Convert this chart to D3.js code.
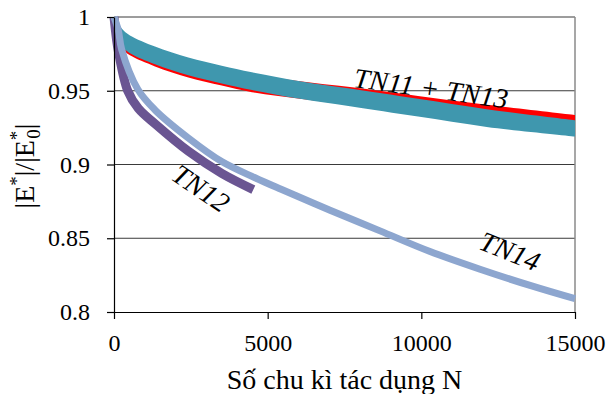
<!DOCTYPE html>
<html>
<head>
<meta charset="utf-8">
<script src="https://cdn.jsdelivr.net/npm/d3@7"></script>
<style>
  body { margin: 0; background: #fff; }
  .serif { font-family: 'Liberation Serif', 'Times New Roman', serif; }
</style>
</head>
<body>
<div id="chart"></div>
<script>
// values
const yTicks = [0.8, 0.85, 0.9, 0.95, 1];
const yTickLabels = ['0.8', '0.85', '0.9', '0.95', '1'];
const xTicks = [0, 5000, 10000, 15000];
const xTickLabels = ['0', '5000', '10000', '15000'];

// TN11 and TN13 are wide scattered bands: upper / lower edge
const bandN = [0, 130, 260, 520, 1334, 2418, 3505, 4490, 6052, 7679, 9892, 12128, 15000];
const tn13Hi = [1.0, 0.997, 0.992, 0.9875, 0.980, 0.9725, 0.967, 0.9625, 0.9565, 0.9515, 0.9445, 0.9375, 0.930];
const tn13Lo = [1.0, 0.985, 0.980, 0.9755, 0.968, 0.9605, 0.955, 0.9505, 0.9445, 0.9395, 0.9325, 0.9255, 0.919];
const tn11Hi = [1.0, 0.996, 0.9905, 0.986, 0.9785, 0.971, 0.9655, 0.961, 0.9565, 0.9525, 0.9465, 0.9405, 0.9335];
const tn11Lo = [1.0, 0.984, 0.9785, 0.974, 0.9665, 0.959, 0.9535, 0.949, 0.9445, 0.9405, 0.9345, 0.9285, 0.9225];

// TN12 and TN14 are narrow: centre line
const tn12N = [0, 81, 140, 446, 791, 1367, 2418, 3505, 4533];
const tn12V = [1.0, 0.985, 0.977, 0.950, 0.938, 0.927, 0.909, 0.894, 0.883];
const tn14N = [0, 140, 250, 774, 1334, 2418, 3505, 4588, 5457, 7029, 8656, 10283, 11910, 13537, 15000];
const tn14V = [1.0, 0.991, 0.978, 0.951, 0.937, 0.918, 0.902, 0.891, 0.883, 0.869, 0.855, 0.841, 0.829, 0.818, 0.809];

const FONT = "'Liberation Serif', 'Times New Roman', serif";
const W = 607, H = 394;
const margin = {top: 17, right: 32, bottom: 82, left: 114};

const svg = d3.select('#chart').append('svg')
    .attr('width', W)
    .attr('height', H);

const x = d3.scaleLinear().domain([0, 15000]).range([margin.left, W - margin.right]);
const y = d3.scaleLinear().domain([0.8, 1]).range([H - margin.bottom, margin.top]);

// gridlines
svg.append('g')
    .selectAll('line')
    .data(yTicks.filter(d => d > 0.8))
    .enter().append('line')
    .attr('x1', x(0)).attr('x2', x(15000))
    .attr('y1', d => y(d)).attr('y2', d => y(d))
    .attr('stroke', '#3a3a3a')
    .attr('stroke-width', 1);

// right border
svg.append('line')
    .attr('x1', x(15000)).attr('x2', x(15000))
    .attr('y1', y(1)).attr('y2', y(0.8))
    .attr('stroke', '#8a8a8a')
    .attr('stroke-width', 1.5);

const smooth = d3.curveCatmullRom.alpha(0.5);

const band = (n, hi, lo) => d3.area()
    .x((d, i) => x(n[i]))
    .y0((d, i) => y(lo[i]))
    .y1((d, i) => y(hi[i]))
    .curve(smooth)(n);

const line = (n, v) => d3.line()
    .x((d, i) => x(n[i]))
    .y((d, i) => y(v[i]))
    .curve(smooth)(n);

svg.append('path').attr('d', band(bandN, tn11Hi, tn11Lo)).attr('fill', '#ff0000');
svg.append('path').attr('d', band(bandN, tn13Hi, tn13Lo)).attr('fill', '#3f97ae');
svg.append('path').attr('d', line(tn12N, tn12V))
    .attr('fill', 'none').attr('stroke', '#6a5592').attr('stroke-width', 9);
svg.append('path').attr('d', line(tn14N, tn14V))
    .attr('fill', 'none').attr('stroke', '#8da6cf').attr('stroke-width', 7);

// axes
const yAxis = svg.append('g')
    .attr('transform', `translate(${margin.left},0)`)
    .call(d3.axisLeft(y).tickValues(yTicks)
        .tickFormat((d, i) => yTickLabels[i])
        .tickSize(7).tickSizeOuter(0).tickPadding(17));
const xAxis = svg.append('g')
    .attr('transform', `translate(0,${H - margin.bottom})`)
    .call(d3.axisBottom(x).tickValues(xTicks)
        .tickFormat((d, i) => xTickLabels[i])
        .tickSize(7).tickSizeOuter(0).tickPadding(15));

[yAxis, xAxis].forEach(g => {
    g.attr('font-family', null).attr('font-size', null);
    g.selectAll('path, line').attr('stroke', '#000').attr('stroke-width', 1.2);
    g.selectAll('text')
        .attr('class', 'serif')
        .attr('fill', '#000')
        .style('font-family', FONT)
        .style('font-size', '24px');
});

// axis titles
svg.append('text')
    .attr('class', 'serif')
    .attr('x', (x(0) + x(15000)) / 2)
    .attr('y', 389)
    .attr('text-anchor', 'middle')
    .style('font-family', FONT)
    .style('font-size', '28px')
    .text('Số chu kì tác dụng N');

const yTitle = svg.append('text')
    .attr('class', 'serif')
    .attr('transform', 'translate(34,166) rotate(-90)')
    .attr('text-anchor', 'middle')
    .style('font-family', FONT)
    .style('font-size', '28px');
yTitle.append('tspan').text('|E');
yTitle.append('tspan').attr('dy', -11).style('font-size', '19px').text('*');
yTitle.append('tspan').attr('dy', 11).text('|/|E');
yTitle.append('tspan').attr('dy', -11).style('font-size', '19px').text('*');
yTitle.append('tspan').attr('dx', -8).attr('dy', 17).style('font-size', '19px').text('0');
yTitle.append('tspan').attr('dy', -6).text('|');

// series labels
const labels = [
    {text: 'TN11 + TN13', cx: 431, cy: 88, angle: 8},
    {text: 'TN12', cx: 201, cy: 188, angle: 34},
    {text: 'TN14', cx: 510, cy: 251, angle: 22}
];
svg.append('g')
    .selectAll('text')
    .data(labels)
    .enter().append('text')
    .attr('class', 'serif')
    .attr('transform', d => `translate(${d.cx},${d.cy}) rotate(${d.angle})`)
    .attr('text-anchor', 'middle')
    .attr('dy', '0.35em')
    .style('font-family', FONT)
    .style('font-size', '28px')
    .style('font-style', 'italic')
    .text(d => d.text);
</script>
</body>
</html>
